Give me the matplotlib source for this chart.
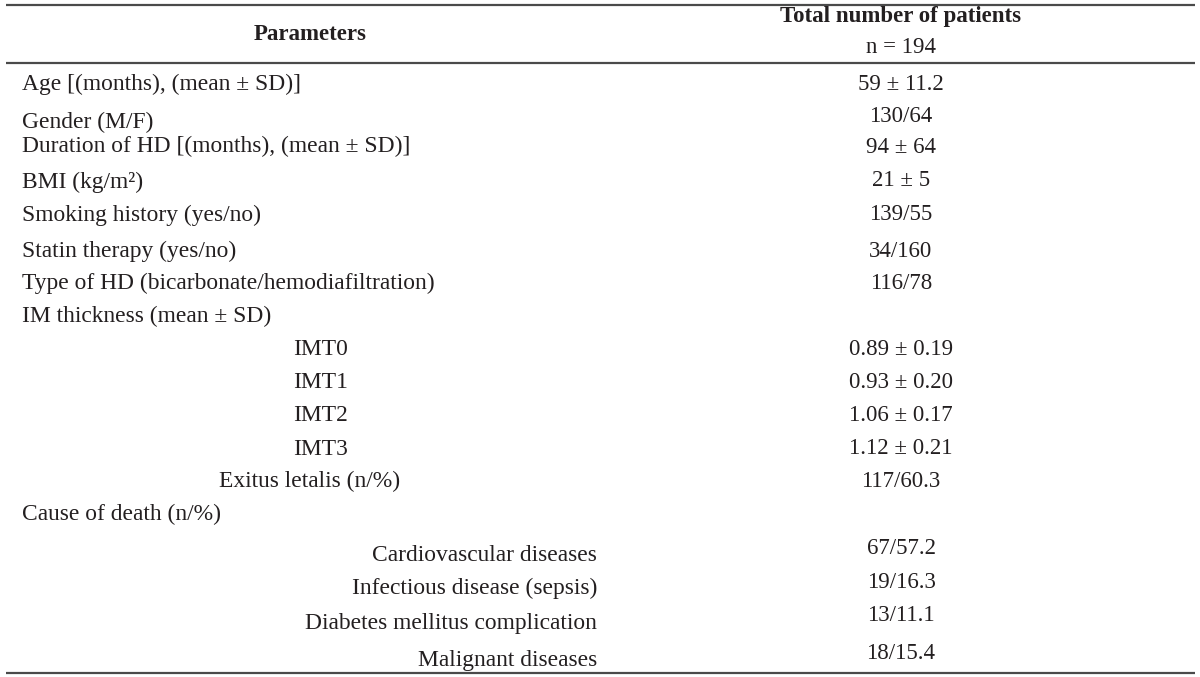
import matplotlib.pyplot as plt

plt.rcParams["font.family"] = ["Liberation Serif", "DejaVu Serif"]

# ---------- table content ----------
params = ["Age [(months), (mean ± SD)]", "Gender (M/F)",
          "Duration of HD [(months), (mean ± SD)]", "BMI (kg/m²)",
          "Smoking history (yes/no)", "Statin therapy (yes/no)",
          "Type of HD (bicarbonate/hemodiafiltration)",
          "IM thickness (mean ± SD)",
          "IMT0", "IMT1", "IMT2", "IMT3", "Exitus letalis (n/%)",
          "Cause of death (n/%)",
          "Cardiovascular diseases", "Infectious disease (sepsis)",
          "Diabetes mellitus complication", "Malignant diseases"]
values = ["59 ± 11.2", "130/64", "94 ± 64", "21 ± 5", "139/55", "34/160",
          "116/78", "", "0.89 ± 0.19", "0.93 ± 0.20", "1.06 ± 0.17",
          "1.12 ± 0.21", "117/60.3", "", "67/57.2", "19/16.3", "13/11.1",
          "18/15.4"]

# ---------- layout (pixel baselines) ----------
label_y = [90, 128, 152, 188, 221, 257, 289, 322, 355, 388, 421, 455, 487,
           520, 561, 594, 629, 666]
value_y = [90, 122, 153, 186, 220, 257, 289, 322, 355, 388, 421, 454, 487,
           520, 554, 588, 621, 659]
# (x, ha) per row
label_x = [(22, "left")] * 8 + [(293, "left")] * 4 + [(219, "left")] + \
          [(22, "left")] + [(597, "right")] * 4
value_x = 901
tcol = "#231f20"
fs = 16.5
fs_lab = 16.9

fig = plt.figure(figsize=(12, 6.77), dpi=100)
ax = fig.add_axes([0, 0, 1, 1])
ax.set_xlim(0, 1200)
ax.set_ylim(677, 0)
ax.axis("off")

# rules
for y in [4.5, 63, 673]:
    ax.plot([6, 1195], [y, y], color="#4a4a4a", lw=1.6, solid_capstyle="butt")

# header
ax.text(310, 40, "Parameters", ha="center", va="baseline", fontsize=fs,
        fontweight="bold", color=tcol)
ax.text(value_x, 22, "Total number of patients", ha="center", va="baseline",
        fontsize=fs, fontweight="bold", color=tcol)
ax.text(value_x, 53, "n = 194", ha="center", va="baseline", fontsize=fs,
        color=tcol)

for lab, v, ly, vy, (lx, ha) in zip(params, values, label_y, value_y, label_x):
    ax.text(lx, ly, lab, ha=ha, va="baseline", fontsize=fs_lab, color=tcol)
    if v:
        ax.text(value_x, vy, v, ha="center", va="baseline", fontsize=fs,
                color=tcol)

fig.savefig("out.png", dpi=100)
